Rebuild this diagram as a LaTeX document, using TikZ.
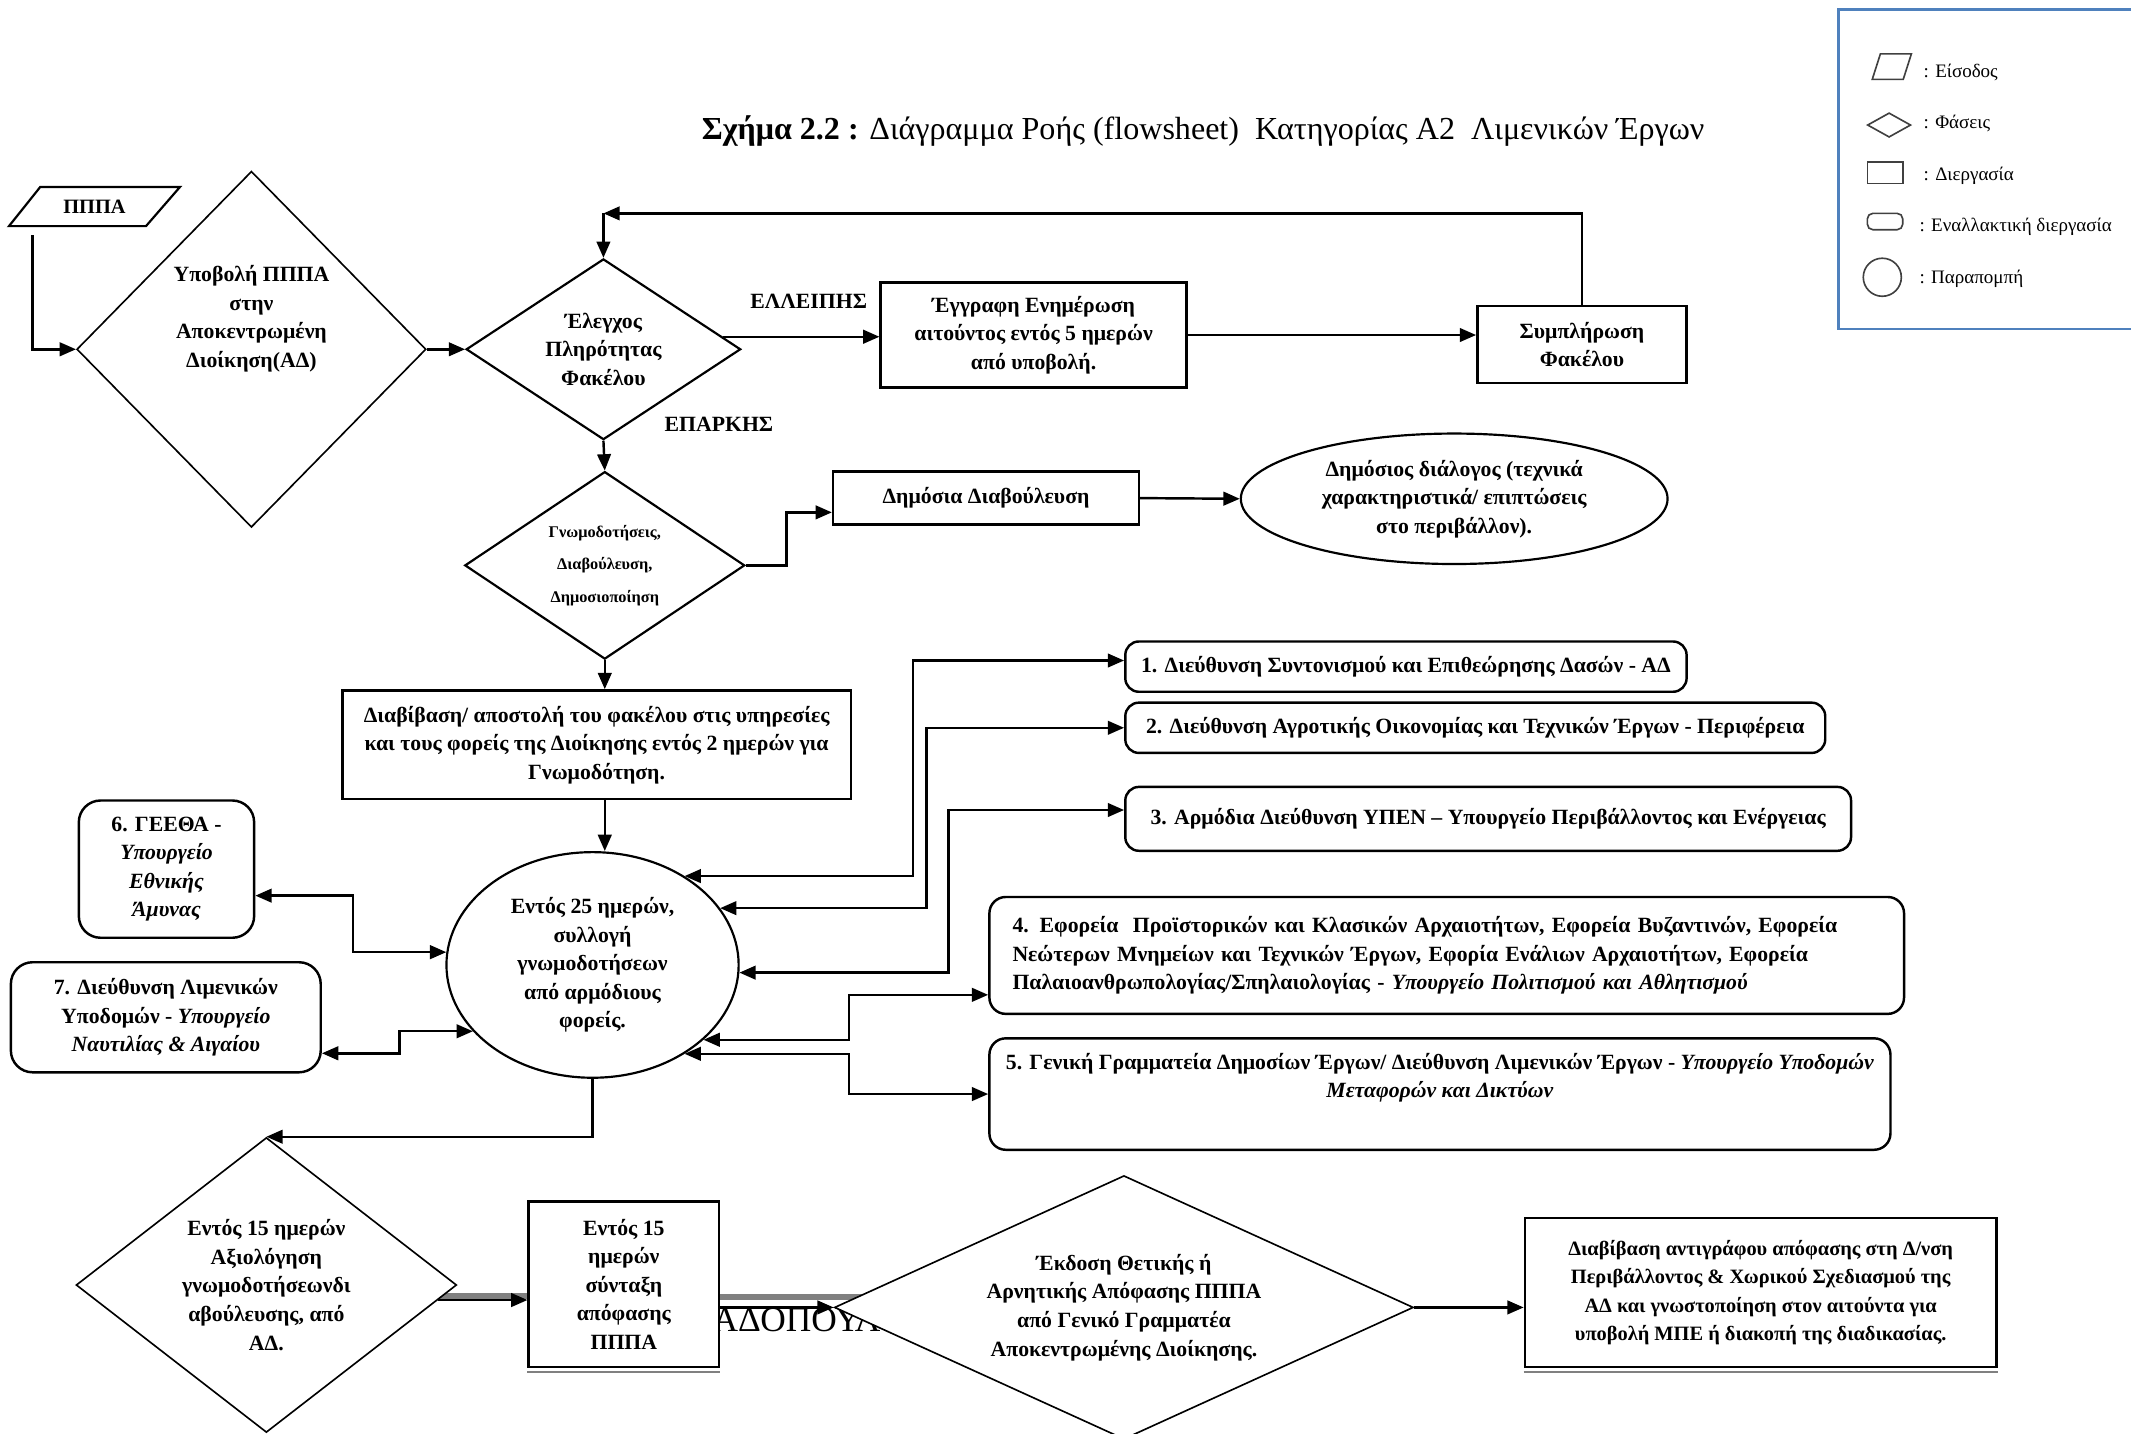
\documentclass[tikz,border=0pt]{standalone}
\usepackage{fontspec}
\setmainfont{Liberation Serif}
\usetikzlibrary{shapes.geometric,arrows.meta,backgrounds}

\definecolor{frameblue}{HTML}{4F81BD}
\definecolor{symgray}{HTML}{404040}
\definecolor{ghostgray}{HTML}{808080}

\newcommand{\bodyfont}{\bfseries\fontsize{8}{10.5}\selectfont}

\tikzset{
  wh/.style 2 args={minimum width=#1*0.5pt, minimum height=#2*0.5pt},
  procbox/.style={draw, line width=0.9pt, fill=white, inner sep=0pt, align=center, font=\bodyfont},
  altbox/.style={procbox, rounded corners=5pt},
  phase/.style={draw, diamond, line width=0.7pt, fill=white, inner sep=0pt, align=center, font=\bodyfont},
  oval/.style={draw, ellipse, line width=0.8pt, fill=white, inner sep=0pt, align=center, font=\bodyfont},
  flow/.style={line width=0.9pt, -{Triangle[length=6pt,width=5pt]}},
  twoway/.style={line width=0.9pt, {Triangle[length=6pt,width=5pt]}-{Triangle[length=6pt,width=5pt]}},
  ghost/.style={line width=2.2pt, ghostgray},
  legsym/.style={draw=symgray, line width=0.6pt, inner sep=1pt},
  legtxt/.style={anchor=west, inner sep=0pt, font=\fontsize{7}{8}\selectfont},
  tag/.style={inner sep=0pt, font=\bodyfont},
}

\begin{document}
\begin{tikzpicture}[x=0.5pt, y=-0.5pt]
\useasboundingbox (0,0) rectangle (1568,1055);
\clip (0,0) rectangle (1568,1055);

% ---------- title ----------
\node[anchor=base west, inner sep=0pt, font=\fontsize{11.8}{14}\selectfont] (title) at (516,103)
  {\textbf{Σχήμα 2.2 :} Διάγραμμα Ροής (flowsheet)\ \ Κατηγορίας Α2\ \ Λιμενικών Έργων};

% ---------- legend ----------
\draw[frameblue, line width=1pt] (1575,7) -- (1353,7) -- (1353,242) -- (1575,242);
\node[inner sep=0pt, wh={28}{18}] (lg1) at (1392,49) {};
\draw[symgray, line width=0.6pt] (lg1.south west) -- ([xshift=-3pt]lg1.south east)
  -- (lg1.north east) -- ([xshift=3pt]lg1.north west) -- cycle;
\node[legsym, diamond, aspect=1.78, wh={32}{18}] (lg2) at (1390,92) {};
\node[legsym, rectangle, wh={26}{16}] (lg3) at (1387,127) {};
\node[legsym, rectangle, rounded corners=2pt, wh={26}{12}] (lg4) at (1387,163) {};
\node[legsym, circle, minimum size=14pt] (lg5) at (1385,204) {};
\node[legtxt] (lt1) at (1415,53) {: Είσοδος};
\node[legtxt] (lt2) at (1415,91) {: Φάσεις};
\node[legtxt] (lt3) at (1415,129) {: Διεργασία};
\node[legtxt] (lt4) at (1412,167) {: Εναλλακτική διεργασία};
\node[legtxt] (lt5) at (1412,205) {: Παραπομπή};

% ---------- leftover text partly hidden behind the shapes ----------
\node[anchor=base west, inner sep=0pt, font=\fontsize{13}{15}\selectfont] (stray) at (524,980) {ΑΔΟΠΟΥΛ};

% ---------- upper part ----------
\node[inner sep=0pt, wh={125}{28}, font=\bfseries\fontsize{7.5}{9}\selectfont] (pppa) at (69.5,152) {ΠΠΠΑ};
\draw[line width=0.8pt] (pppa.south west) -- ([xshift=-12.5pt]pppa.south east)
  -- (pppa.north east) -- ([xshift=11.5pt]pppa.north west) -- cycle;
\node[phase, line width=0.6pt, aspect=0.98, wh={257}{262}] (d1) at (185,257)
  {Υποβολή ΠΠΠΑ\\στην\\Αποκεντρωμένη\\Διοίκηση(ΑΔ)\\\strut\\\strut};
\node[phase, line width=0.8pt, aspect=1.52, wh={202}{133}] (d2) at (444,257)
  {Έλεγχος\\Πληρότητας\\Φακέλου};
\node[procbox, wh={225}{77}] (eggr) at (760.5,246.5)
  {Έγγραφη Ενημέρωση\\αιτούντος εντός 5 ημερών\\από υποβολή.};
\node[procbox, wh={154}{57}] (symp) at (1164,253.5) {Συμπλήρωση\\Φακέλου};
\node[tag] (ell) at (595,222) {ΕΛΛΕΙΠΗΣ};
\node[tag] (epar) at (529,312) {ΕΠΑΡΚΗΣ};
\node[phase, line width=0.8pt, aspect=1.49, wh={206}{138}, font=\bfseries\fontsize{6}{12}\selectfont] (d3) at (445,416)
  {Γνωμοδοτήσεις,\\Διαβούλευση,\\Δημοσιοποίηση};
\node[procbox, wh={225}{39}] (dpub) at (725.5,366.5) {Δημόσια Διαβούλευση};
\node[oval, wh={314}{96}] (dial) at (1070,367)
  {Δημόσιος διάλογος (τεχνικά\\χαρακτηριστικά/ επιπτώσεις\\στο περιβάλλον).};
\node[procbox, wh={374}{80}] (diab) at (439,548)
  {Διαβίβαση/ αποστολή του φακέλου στις υπηρεσίες\\και τους φορείς της Διοίκησης εντός 2 ημερών για\\Γνωμοδότηση.};

% ---------- opinions ----------
\node[oval, wh={215}{166}] (circ) at (436,710)
  {Εντός 25 ημερών,\\συλλογή\\γνωμοδοτήσεων\\από αρμόδιους\\φορείς.};
\node[altbox, wh={413}{37}] (b1) at (1034.5,490.5) {1. Διεύθυνση Συντονισμού και Επιθεώρησης Δασών - ΑΔ};
\node[altbox, wh={515}{37}] (b2) at (1085.5,535.5) {2. Διεύθυνση Αγροτικής Οικονομίας και Τεχνικών Έργων - Περιφέρεια};
\node[altbox, wh={534}{47}] (b3) at (1095,602.5) {3. Αρμόδια Διεύθυνση ΥΠΕΝ – Υπουργείο Περιβάλλοντος και Ενέργειας};
\node[altbox, rounded corners=6pt, wh={673}{86}, align=left, text width=319.5pt] (b4) at (1064.5,703)
  {4. Εφορεία\ \ Προϊστορικών και Κλασικών Αρχαιοτήτων, Εφορεία Βυζαντινών, Εφορεία\\
   Νεώτερων Μνημείων και Τεχνικών Έργων, Εφορία Ενάλιων Αρχαιοτήτων, Εφορεία\\
   Παλαιοανθρωπολογίας/Σπηλαιολογίας - \textit{Υπουργείο Πολιτισμού και Αθλητισμού}};
\node[altbox, rounded corners=6pt, wh={663}{82}] (b5) at (1059.5,805)
  {5. Γενική Γραμματεία Δημοσίων Έργων/ Διεύθυνση Λιμενικών Έργων - \textit{Υπουργείο Υποδομών}\\
   \textit{Μεταφορών και Δικτύων}\\\strut};
\node[altbox, rounded corners=8pt, wh={129}{101}] (b6) at (122.5,639.5)
  {6. ΓΕΕΘΑ -\\\textit{Υπουργείο}\\\textit{Εθνικής}\\\textit{Άμυνας}};
\node[altbox, rounded corners=8pt, wh={228}{81}] (b7) at (122,748.5)
  {7. Διεύθυνση Λιμενικών\\Υποδομών - \textit{Υπουργείο}\\\textit{Ναυτιλίας \& Αιγαίου}};

% ---------- decision part ----------
\node[phase, line width=0.6pt, aspect=1.29, wh={280}{217}] (d4) at (196,945.5)
  {Εντός 15 ημερών\\Αξιολόγηση\\γνωμοδοτήσεωνδι\\αβούλευσης, από\\ΑΔ.};
\node[procbox, wh={140}{122}] (synt) at (459,945)
  {Εντός 15\\ημερών\\σύνταξη\\απόφασης\\ΠΠΠΑ};
\node[phase, line width=0.6pt, aspect=2.2, wh={426}{194}] (d5) at (827,962)
  {Έκδοση Θετικής ή\\Αρνητικής Απόφασης ΠΠΠΑ\\από Γενικό Γραμματέα\\Αποκεντρωμένης Διοίκησης.};
\node[procbox, wh={347}{110}, font=\bfseries\fontsize{7.5}{10.5}\selectfont] (fin) at (1295.5,951)
  {Διαβίβαση αντιγράφου απόφασης στη Δ/νση\\Περιβάλλοντος \& Χωρικού Σχεδιασμού της\\ΑΔ και γνωστοποίηση στον αιτούντα για\\υποβολή ΜΠΕ ή διακοπή της διαδικασίας.};

% grey doubled edges
\draw[ghostgray, line width=0.8pt] ([yshift=-1.4pt]synt.south west) -- ([yshift=-1.4pt]synt.south east);
\draw[ghostgray, line width=0.8pt] ([yshift=-1.4pt]fin.south west) -- ([yshift=-1.4pt]fin.south east);
\begin{pgfonlayer}{background}
  \draw[ghost] ([yshift=1.6pt]d4.355) -- ([yshift=1.6pt]d4.355 -| synt.west);
  \draw[ghost] ([yshift=4pt]d5.west -| synt.east) -- ++(120,0);
\end{pgfonlayer}

% ---------- connectors ----------
\coordinate (pin) at (24,173);
\coordinate (fb) at (d2.north |- 0,157);
\draw[flow] (pin) |- (d1.west);
\draw[flow] (d1.east) -- (d2.west);
\draw[flow] (d2.6) -- (d2.6 -| eggr.west);
\draw[flow] (eggr.east) -- (eggr.east -| symp.west);
\draw[flow] (symp.north) |- (fb);
\draw[flow] (fb) -- (d2.north);
\draw[flow] (d2.south) -- (d3.north);
\draw[flow] (d3.east) -- ++(30,0) |- ([yshift=-5.25pt]dpub.west);
\draw[flow] (dpub.east) -- (dial.west);
\draw[flow] (d3.south) -- (d3.south |- diab.north);
\draw[flow] (d3.south |- diab.south) -- (d3.south |- circ.north);

\draw[twoway] (circ.44) -- ++(168,0) |- ([yshift=2.25pt]b1.west);
\draw[twoway] (circ.24) -- ++(152,0) |- (b2.west);
\draw[twoway] (circ.357) -- ++(154,0) |- ([yshift=3.25pt]b3.west);
\draw[twoway] (circ.326) -- ++(107,0) |- ([yshift=-14.5pt]b4.west);
\draw[twoway] (circ.316) -- ++(121,0) |- (b5.west);
\draw[twoway] ([yshift=-9.75pt]b6.east) -- ++(72,0) |- (circ.175);
\draw[twoway] ([yshift=-13.25pt]b7.east) -- ++(57,0) |- (circ.209);

\draw[flow] (circ.south) |- (d4.north);
\draw[flow] (d4.355) -- (d4.355 -| synt.west);
\draw[flow] (d5.west -| synt.east) -- (d5.west);
\draw[flow] (d5.east) -- (d5.east -| fin.west);
\end{tikzpicture}
\end{document}
